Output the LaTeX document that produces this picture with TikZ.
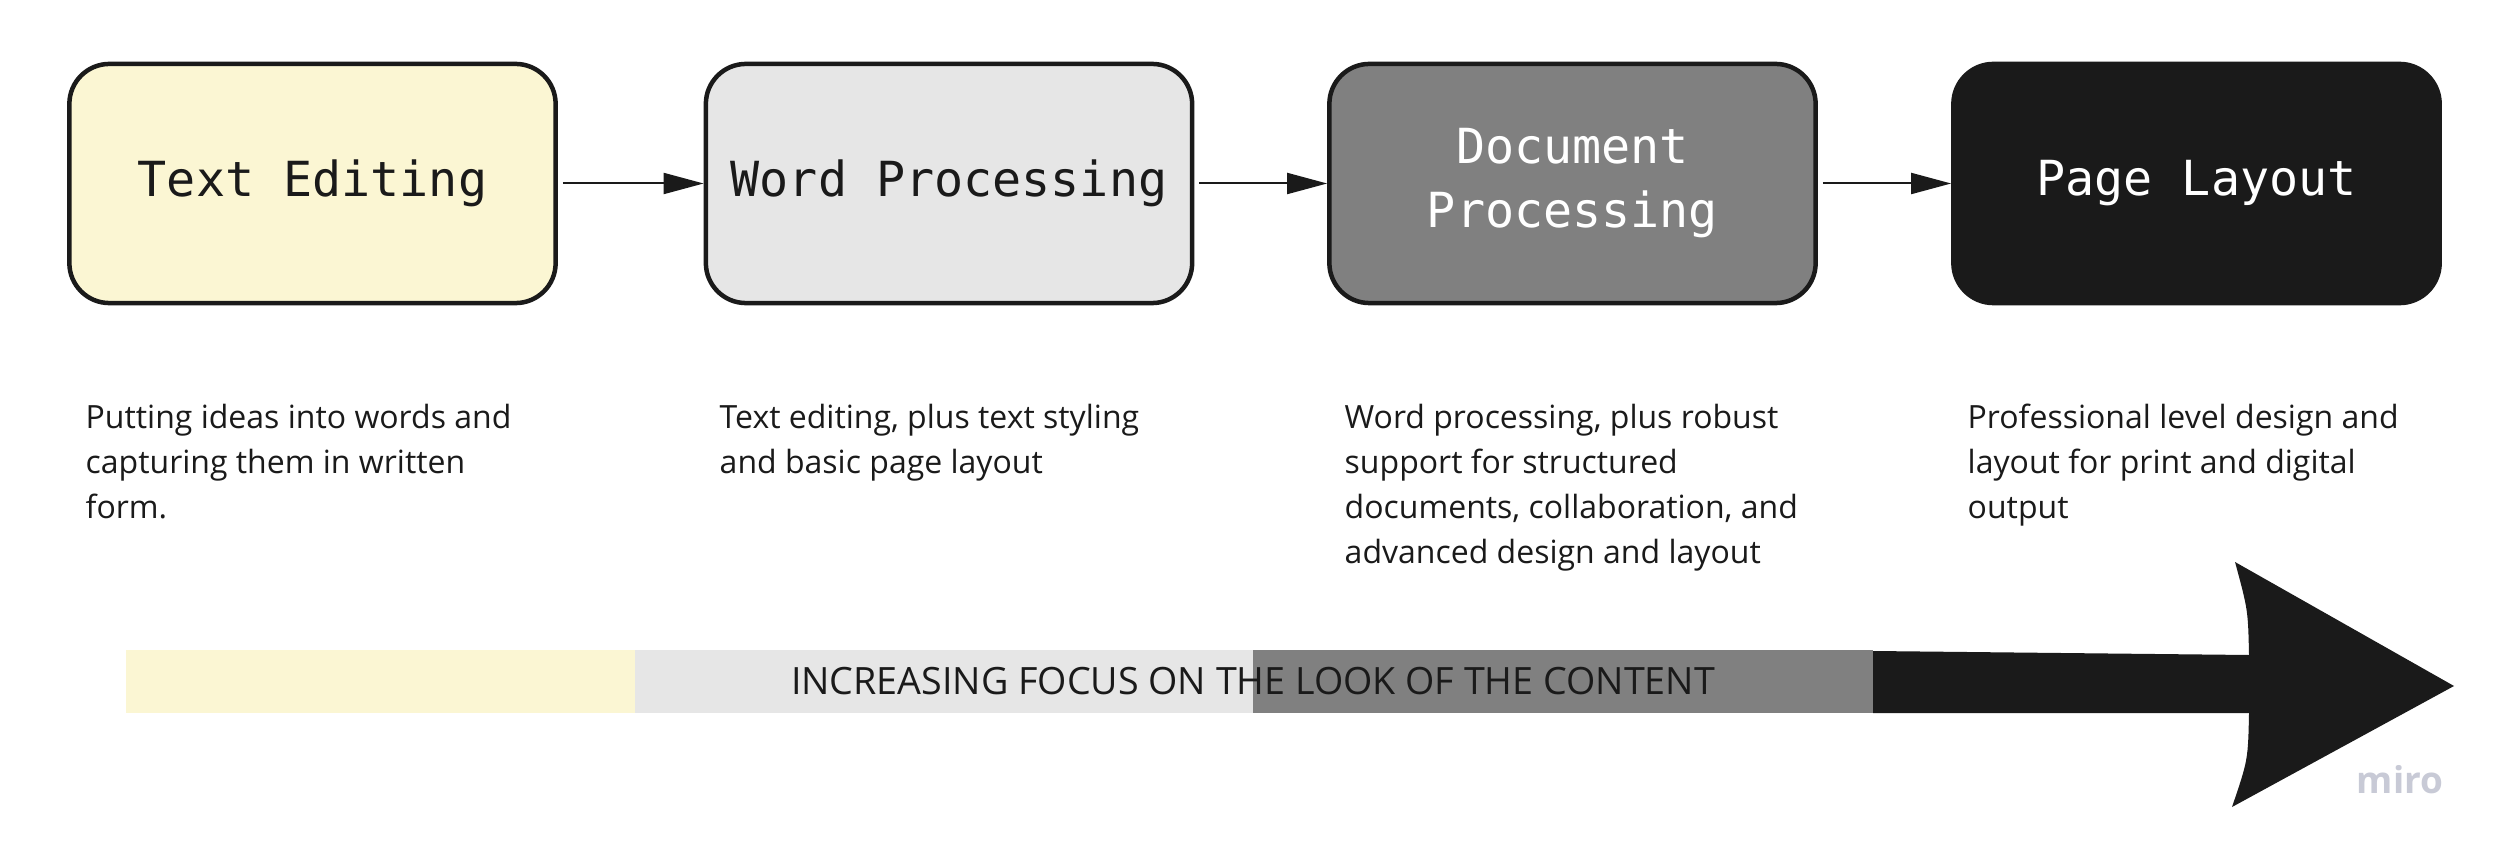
\documentclass[tikz,border=0pt]{standalone}
\usepackage{fontspec}
\setmainfont{Open Sans}
\newfontfamily\boxmono{DejaVu Sans Mono}
\usetikzlibrary{arrows.meta}
\definecolor{cyellow}{HTML}{FBF6D3}
\definecolor{clight}{HTML}{E6E6E6}
\definecolor{cmid}{HTML}{808080}
\definecolor{cdark}{HTML}{1A1A1A}
\definecolor{cmiro}{HTML}{C8CAD6}
\tikzset{
  stage/.style={draw=cdark, line width=0.045cm, rounded corners=0.4cm,
    minimum width=4.86cm, minimum height=2.39cm, inner sep=0pt, align=center,
    font=\boxmono\fontsize{13.75}{18.2}\selectfont},
  desc/.style={anchor=north west, inner sep=0pt, align=left, text=cdark,
    font=\fontsize{9.1}{12.8}\selectfont},
  flow/.style={draw=cdark, line width=0.02cm, -{Triangle[length=0.4cm,width=0.21cm]}, shorten <=0.05cm}
}
\begin{document}
\begin{tikzpicture}[x=0.01cm, y=-0.01cm]
\useasboundingbox[fill=white] (0,0) rectangle (2500,852);
% stage boxes
\node[stage, fill=cyellow, text=cdark] (te) at (312.5,183.5) {Text Editing};
\node[stage, fill=clight, text=cdark] (wp) at (949,183.5) {Word Processing};
\node[stage, fill=cmid, text=white] (dp) at (1572.5,183.5) {Document\\Processing};
\node[stage, fill=cdark, text=white] (pl) at (2196.5,183.5) {Page Layout};
% connectors
\draw[flow] (te) -- (wp);
\draw[flow] (wp) -- (dp);
\draw[flow] (dp) -- (pl);
% descriptions
\node[desc] (d1) at (85,403) {Putting ideas into words and\\capturing them in written\\form.};
\node[desc] (d2) at (719,403) {Text editing, plus text styling\\and basic page layout};
\node[desc] (d3) at (1344,403) {Word processing, plus robust\\support for structured\\documents, collaboration, and\\advanced design and layout};
\node[desc] (d4) at (1967,403) {Professional level design and\\layout for print and digital\\output};
% big arrow
\fill[cyellow] (126,650) rectangle (635,713);
\fill[clight] (635,650) rectangle (1253,713);
\fill[cmid] (1253,650) rectangle (1873,713);
\fill[cdark] (1873,651) -- (2249,655) .. controls (2248,610) .. (2235,562)
  -- (2454,686) -- (2232,807) .. controls (2248,760) .. (2249,713) -- (1873,713) -- cycle;
\node[text=cdark, font=\fontsize{10.7}{12}\selectfont] (lbl) at (1253,681) {INCREASING FOCUS ON THE LOOK OF THE CONTENT};
% watermark
\node[text=cmiro, font=\fontsize{10.5}{12}\selectfont\bfseries, anchor=base east, inner sep=0pt] (miro) at (2444,793) {miro};
\end{tikzpicture}
\end{document}
